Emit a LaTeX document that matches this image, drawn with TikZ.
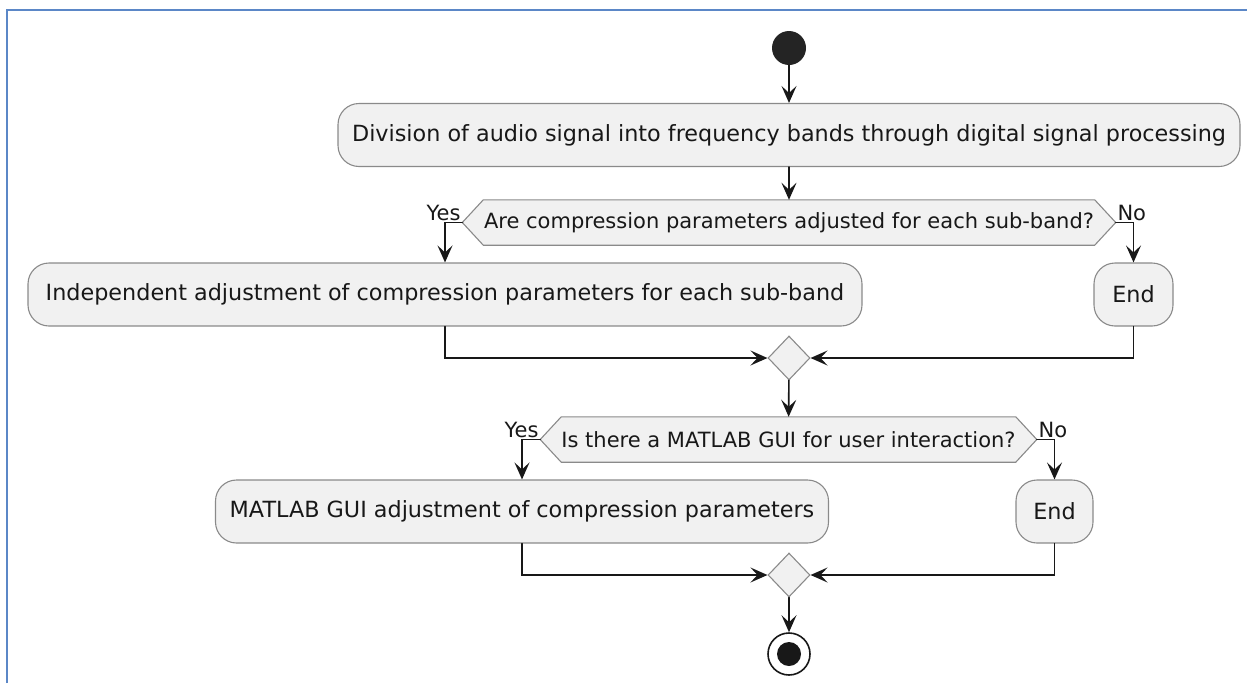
\documentclass[tikz,border=0pt]{standalone}
\usepackage{fontspec}
\setmainfont{DejaVu Sans}
\usepackage{tikz}
\usetikzlibrary{arrows.meta,positioning,backgrounds,shapes.geometric}
\definecolor{ink}{HTML}{181818}
\definecolor{boxfill}{HTML}{F1F1F1}
\definecolor{boxline}{HTML}{8A8A8A}
\definecolor{pageframe}{HTML}{5B87C7}

% hexagon drawn behind a question node
\newcommand{\hexaround}[1]{%
  \begin{scope}[on background layer]
    \filldraw[boxline,fill=boxfill,line width=1.1pt]
      (#1.north west) -- (#1.north east) -- (#1e) -- (#1.south east)
      -- (#1.south west) -- (#1w) -- cycle;
  \end{scope}}

\begin{document}
\begin{tikzpicture}[x=1pt,y=-1pt,line cap=round,
  action/.style={draw=boxline,fill=boxfill,line width=1.1pt,rounded corners=21pt,
    minimum height=63pt,inner sep=0pt,text=ink,font=\fontsize{22.3}{26}\selectfont},
  question/.style={inner sep=0pt,minimum height=45pt,text=ink,
    font=\fontsize{21}{25}\selectfont},
  merge/.style={diamond,draw=boxline,fill=boxfill,line width=1.1pt,inner sep=0pt,
    minimum width=42pt,minimum height=44pt},
  flow/.style={ink,line width=1.6pt,-{Stealth[length=17pt,width=15pt,inset=7pt]}},
  answer/.style={text=ink,inner sep=1pt,font=\fontsize{21}{24}\selectfont}]
  \useasboundingbox (0,0) rectangle (1247,683);
  \draw[pageframe,line width=2pt,line cap=butt] (7,683) -- (7,10) -- (1247,10);

  % start and first step
  \node[circle,fill=ink!95!white,minimum size=34pt,inner sep=0pt] (start) at (789,48) {};
  \node[action,minimum width=902pt] (split) at (789,135)
    {Division of audio signal into frequency bands through digital signal processing};

  % first question
  \node[question,minimum width=611pt] (q1) at (789,222.5)
    {Are compression parameters adjusted for each sub-band?};
  \coordinate (q1w) at ([xshift=-21pt]q1.west);
  \coordinate (q1e) at ([xshift=21pt]q1.east);
  \hexaround{q1}
  \node[action,minimum width=834pt] (indep) at (445,294.5)
    {Independent adjustment of compression parameters for each sub-band};
  \node[action,minimum width=79pt] (stop1) at (1133.5,294.5) {End};
  \node[merge] (m1) at (789,358) {};

  % second question
  \node[question,minimum width=453pt] (q2) at (788.5,439.5)
    {Is there a MATLAB GUI for user interaction?};
  \coordinate (q2w) at ([xshift=-21pt]q2.west);
  \coordinate (q2e) at ([xshift=21pt]q2.east);
  \hexaround{q2}
  \node[action,minimum width=613pt] (gui) at (522,511.5)
    {MATLAB GUI adjustment of compression parameters};
  \node[action,minimum width=77pt] (stop2) at (1054.5,511.5) {End};
  \node[merge] (m2) at (789,575) {};

  % final node
  \node[circle,draw=ink,line width=1.6pt,fill=white,minimum size=42pt,inner sep=0pt] (finish) at (789,654) {};
  \fill[ink] (finish) circle (12pt);

  % connectors
  \draw[flow] (start) -- (split);
  \draw[flow] (split) -- (q1);
  \draw[flow] (q1w) node[answer,anchor=south east]{Yes} -| (indep.north);
  \draw[flow] (q1e) node[answer,anchor=south west]{No} -| (stop1.north);
  \draw[flow] (indep.south) |- (m1.west);
  \draw[flow] (stop1.south) |- (m1.east);
  \draw[flow] (m1) -- (q2);
  \draw[flow] (q2w) node[answer,anchor=south east]{Yes} -| (gui.north);
  \draw[flow] (q2e) node[answer,anchor=south west]{No} -| (stop2.north);
  \draw[flow] (gui.south) |- (m2.west);
  \draw[flow] (stop2.south) |- (m2.east);
  \draw[flow] (m2) -- (finish);
\end{tikzpicture}
\end{document}
